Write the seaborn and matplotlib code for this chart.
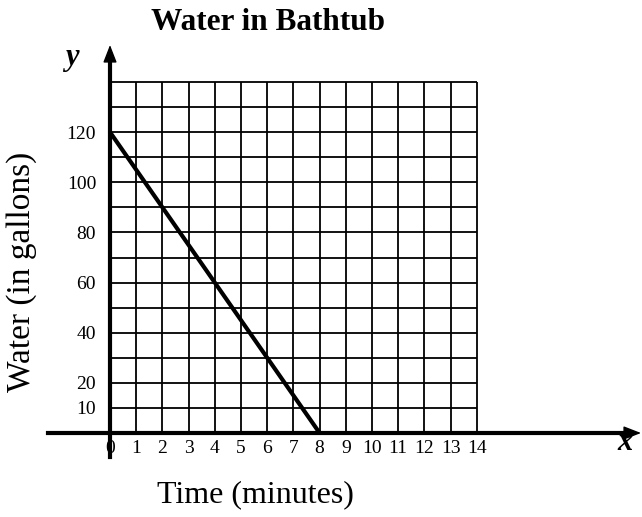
import matplotlib
matplotlib.use("Agg")
import matplotlib.pyplot as plt
import seaborn as sns
import numpy as np

# Data
time_min = [0, 8]
water_gal = [120, 0]
x_ticks = list(range(0, 15))
x_tick_labels = [str(v) for v in x_ticks]
y_ticks = [10, 20, 40, 60, 80, 100, 120]
y_tick_labels = [str(v) for v in y_ticks]
grid_x = list(range(0, 15))
grid_y = list(range(0, 150, 10))

sns.set_theme(style="white")
plt.rcParams['font.family'] = ['Liberation Serif', 'DejaVu Serif']
plt.rcParams['text.color'] = 'black'
plt.rcParams['xtick.color'] = 'black'
plt.rcParams['ytick.color'] = 'black'

W, H = 642, 517
fig = plt.figure(figsize=(W / 100, H / 100), dpi=100)
ax = fig.add_axes([0, 0, 1, 1])

px_x0, px_per_x = 110.0, 26.2
px_y0, px_per_y = 433.0, 2.507
ax.set_xlim(-px_x0 / px_per_x, (W - px_x0) / px_per_x)
ax.set_ylim(-(H - px_y0) / px_per_y, px_y0 / px_per_y)

# grid
ax.vlines(grid_x, 0, max(grid_y), color="black", lw=1.3, zorder=1)
ax.hlines(grid_y, 0, max(grid_x), color="black", lw=1.3, zorder=1)

# data line
sns.lineplot(x=time_min, y=water_gal, ax=ax, color="black", lw=3.0, zorder=3)

# axes lines (spines at zero)
for s in ["top", "right"]:
    ax.spines[s].set_visible(False)
ax.spines["left"].set_position(("data", 0))
ax.spines["bottom"].set_position(("data", 0))
ax.spines["left"].set_linewidth(3.0)
ax.spines["bottom"].set_linewidth(3.0)
ax.spines["left"].set_color("black")
ax.spines["bottom"].set_color("black")
y_tip = (px_y0 - 45) / px_per_y
x_tip = (W - 1 - px_x0) / px_per_x
ax.spines["left"].set_bounds(-(457 - px_y0) / px_per_y, y_tip - 4)
ax.spines["bottom"].set_bounds(-(px_x0 - 48) / px_per_x, x_tip - 0.4)
ax.spines["left"].set_zorder(4)
ax.spines["bottom"].set_zorder(4)

# arrow heads
ax.annotate("", xy=(0, y_tip), xytext=(0, y_tip - 6),
            arrowprops=dict(arrowstyle="-|>,head_length=0.9,head_width=0.35",
                            color="black", lw=1, shrinkA=0, shrinkB=0),
            annotation_clip=False)
ax.annotate("", xy=(x_tip, 0), xytext=(x_tip - 0.6, 0),
            arrowprops=dict(arrowstyle="-|>,head_length=0.9,head_width=0.35",
                            color="black", lw=1, shrinkA=0, shrinkB=0),
            annotation_clip=False)

ax.set_xticks(x_ticks, x_tick_labels)
ax.set_yticks(y_ticks, y_tick_labels)
ax.tick_params(axis="both", length=0, labelsize=14, colors="black")
ax.tick_params(axis="x", pad=5)
ax.tick_params(axis="y", pad=10)
ax.set_xlabel("")
ax.set_ylabel("")

# axis letters
ax.text(-1.45, (px_y0 - 58) / px_per_y, "y", fontsize=22, fontweight="bold",
        fontstyle="italic", ha="center", va="center")
ax.text((625 - px_x0) / px_per_x, -(443 - px_y0) / px_per_y, "x", fontsize=22,
        fontweight="bold", fontstyle="italic", ha="center", va="center")

fig.text(268 / W, 1 - 22 / H, "Water in Bathtub", fontsize=22.5, fontweight="bold",
         ha="center", va="center")
fig.text(22 / W, 1 - 272 / H, "Water (in gallons)", fontsize=24, rotation=90,
         ha="center", va="center")
fig.text(255 / W, 1 - 495 / H, "Time (minutes)", fontsize=23,
         ha="center", va="center")

fig.savefig("out.png", dpi=100)
